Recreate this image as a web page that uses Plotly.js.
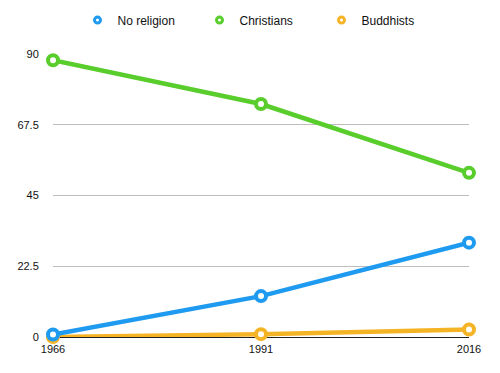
<!DOCTYPE html>
<html>
<head>
<meta charset="utf-8">
<script src="https://cdn.plot.ly/plotly-3.0.1.min.js"></script>
<style>html,body{margin:0;padding:0;background:#fff;}#chart{width:500px;height:373px;}</style>
</head>
<body>
<div id="chart"></div>
<script>
var years = [1966, 1991, 2016];
var noReligion = [0.8, 13.0, 30.0];
var christians = [88.0, 74.1, 52.2];
var buddhists = [0.0, 0.9, 2.4];
var seriesNames = ['No religion', 'Christians', 'Buddhists'];
var seriesColors = ['#1E9BF0', '#58CD2C', '#F5B326'];
var yTicks = [0, 22.5, 45, 67.5, 90];
var yTickText = ['0', '22.5', '45', '67.5', '90'];
var xTicks = [1966, 1991, 2016];

function mk(i, y, legendOnly) {
  return {
    x: legendOnly ? [null] : years,
    y: legendOnly ? [null] : y,
    name: seriesNames[i],
    type: 'scatter',
    mode: legendOnly ? 'markers' : 'lines+markers',
    cliponaxis: false,
    showlegend: legendOnly,
    line: {color: seriesColors[i], width: 4.5},
    marker: {
      symbol: 'circle',
      size: legendOnly ? 6 : 10,
      color: '#ffffff',
      line: {color: seriesColors[i], width: legendOnly ? 3 : 4}
    },
    hoverinfo: 'x+y+name'
  };
}

var traces = [
  mk(2, buddhists, false),
  mk(1, christians, false),
  mk(0, noReligion, false),
  mk(0, null, true),
  mk(1, null, true),
  mk(2, null, true)
];

var layout = {
  width: 500, height: 373,
  margin: {l: 53, r: 31, t: 54, b: 36},
  paper_bgcolor: '#ffffff',
  plot_bgcolor: '#ffffff',
  font: {family: 'Liberation Sans, Arial, sans-serif', size: 11, color: '#111'},
  showlegend: true,
  legend: {
    orientation: 'h',
    xref: 'container', yref: 'container',
    x: 0.155, y: 0.985, xanchor: 'left', yanchor: 'top',
    font: {size: 12, color: '#111'},
    itemwidth: 30,
    entrywidth: 77, entrywidthmode: 'pixels',
    bgcolor: 'rgba(0,0,0,0)'
  },
  xaxis: {
    range: [1966, 2016],
    tickvals: xTicks,
    ticktext: xTicks.map(String),
    showgrid: false,
    zeroline: false,
    showline: false,
    ticks: 'outside', ticklen: 2, tickcolor: 'rgba(0,0,0,0)',
    tickfont: {size: 11, color: '#111'},
    fixedrange: true
  },
  yaxis: {
    range: [0, 90],
    tickvals: yTicks,
    ticktext: yTickText,
    showgrid: true,
    gridcolor: '#bdbdbd',
    gridwidth: 1,
    zeroline: true,
    zerolinecolor: '#222',
    zerolinewidth: 1,
    showline: false,
    ticks: 'outside', ticklen: 11, tickcolor: 'rgba(0,0,0,0)',
    tickfont: {size: 11, color: '#111'},
    fixedrange: true
  }
};

Plotly.newPlot('chart', traces, layout, {displayModeBar: false, staticPlot: true});
</script>
</body>
</html>
